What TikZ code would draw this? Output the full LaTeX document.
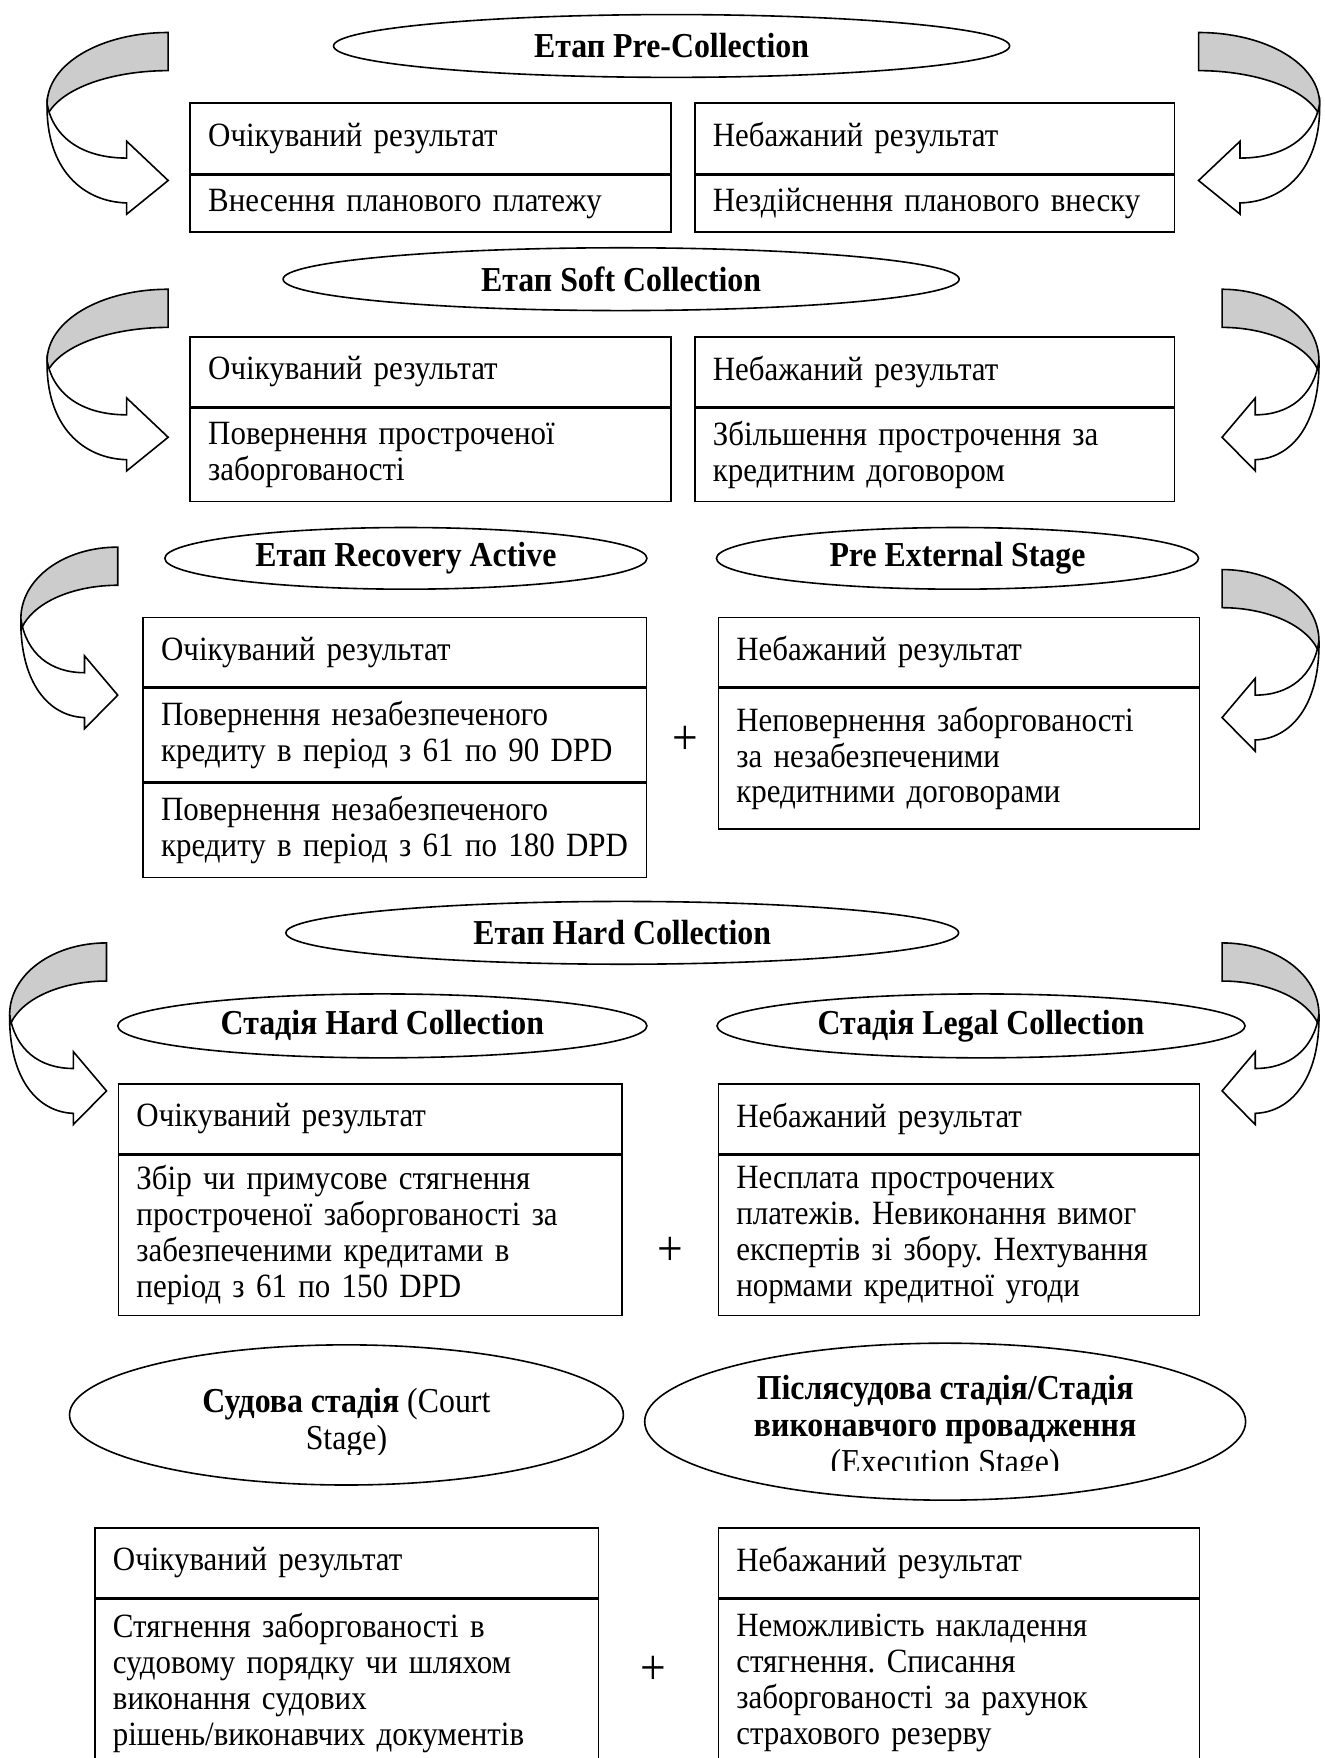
\documentclass[tikz,border=0pt]{standalone}
\usepackage{fontspec}
\setmainfont{Liberation Serif}[FakeStretch=0.91]
\usetikzlibrary{shapes.geometric}
\frenchspacing
\newlength\px
\setlength\px{0.5605pt}
\newcommand\cellfont{\fontsize{17}{17.9}\selectfont}
\newcommand\stagefont{\fontsize{17.5}{18.6}\selectfont}
\tikzset{
  every node/.style={
    inner sep=0pt
  },
  cell/.style={
    draw,
    rectangle,
    anchor=north west,
    align=left,
    inner xsep=16\px,
    font=\cellfont
  },
  stage/.style={
    draw,
    ellipse,
    align=center,
    font=\stagefont\bfseries
  },
  stagetext/.style={
    align=center,
    font=\stagefont
  },
  plus/.style={
    font=\fontsize{25}{25}\selectfont
  },
  pics/turnarrow/.style={code={
    \filldraw[fill=gray!40] (0,0) .. controls (-60,0) and (-108,28) .. (-108,64)
      -- (-107,72) .. controls (-92,47) and (-45,34) .. (0,34) -- cycle;
    \filldraw[fill=white] (-108,64) .. controls (-109,122) and (-76,151) .. (-37,152)
      -- (-37,162) -- (0,132) -- (-37,97) -- (-37,112)
      .. controls (-75,112) and (-102,95) .. (-108,64) -- cycle;
  }}
}
\begin{document}
\begin{tikzpicture}[x=0.5605pt, y=-0.5605pt, thick]
  \useasboundingbox (0,0) rectangle (1181,1568);
  \clip (0,0) rectangle (1181,1568);

  \node[stage, minimum width=603\px, minimum height=56\px] (preStage) at (599,41) {Етап Pre-Collection};
  \pic at (150,29) {turnarrow};
  \pic[xscale=-1] at (1069,29) {turnarrow};
  \node[cell, text width=397\px, minimum height=63\px] (preGood) at (169,91) {Очікуваний результат};
  \node[cell, text width=397\px, minimum height=51\px] (preGoodRes) at (preGood.south west) {Внесення планового платежу};
  \node[cell, text width=396\px, minimum height=63\px] (preBad) at (619,91) {Небажаний результат};
  \node[cell, text width=396\px, minimum height=51\px] (preBadRes) at (preBad.south west) {Нездійснення планового внеску};

  \node[stage, minimum width=603\px, minimum height=56\px] (softStage) at (554,249) {Етап Soft Collection};
  \pic at (150,258) {turnarrow};
  \pic[xscale=-0.8] at (1090,258) {turnarrow};
  \node[cell, text width=397\px, minimum height=62\px] (softGood) at (169,300) {Очікуваний результат};
  \node[cell, text width=397\px, minimum height=83\px] (softGoodRes) at (softGood.south west) {Повернення простроченої\\заборгованості};
  \node[cell, text width=396\px, minimum height=62\px] (softBad) at (619,300) {Небажаний результат};
  \node[cell, text width=396\px, minimum height=83\px] (softBadRes) at (softBad.south west) {Збільшення прострочення за\\кредитним договором};

  \node[stage, minimum width=430\px, minimum height=55\px] (recStage) at (362,498) {Етап Recovery Active};
  \node[stage, minimum width=430\px, minimum height=55\px] (extStage) at (854,498) {Pre External Stage};
  \pic[xscale=0.8] at (105,488) {turnarrow};
  \pic[xscale=-0.8] at (1090,508) {turnarrow};
  \node[cell, text width=417\px, minimum height=62\px] (recGood) at (127,550) {Очікуваний результат};
  \node[cell, text width=417\px, minimum height=83\px] (recRes1) at (recGood.south west) {Повернення незабезпеченого\\кредиту в період з 61 по 90 DPD};
  \node[cell, text width=417\px, minimum height=84\px] (recRes2) at (recRes1.south west) {Повернення незабезпеченого\\кредиту в період з 61 по 180 DPD};
  \node[cell, text width=397\px, minimum height=62\px] (extBad) at (640,550) {Небажаний результат};
  \node[cell, text width=397\px, minimum height=125\px] (extRes) at (extBad.south west) {Неповернення заборгованості\\за незабезпеченими\\кредитними договорами};
  \node[plus] (recPlus) at (611,660) {+};

  \node[stage, minimum width=600\px, minimum height=56\px] (hardStage) at (555,832) {Етап Hard Collection};
  \node[stage, minimum width=472\px, minimum height=57\px] (hardSub) at (341,915) {Стадія Hard Collection};
  \node[stage, minimum width=471\px, minimum height=57\px] (legalSub) at (875,915) {Стадія Legal Collection};
  \pic[xscale=0.8] at (95,841) {turnarrow};
  \pic[xscale=-0.8] at (1090,841) {turnarrow};
  \node[cell, text width=417\px, minimum height=62\px] (hardGood) at (105,966) {Очікуваний результат};
  \node[cell, text width=417\px, minimum height=143\px] (hardRes) at (hardGood.south west) {Збір чи примусове стягнення\\простроченої заборгованості за\\забезпеченими кредитами в\\період з 61 по 150 DPD};
  \node[cell, text width=397\px, minimum height=62\px] (legalBad) at (640,966) {Небажаний результат};
  \node[cell, text width=397\px, minimum height=143\px] (legalRes) at (legalBad.south west) {Несплата прострочених\\платежів. Невиконання вимог\\експертів зі збору. Нехтування\\нормами кредитної угоди};
  \node[plus] (hardPlus) at (598,1116) {+};

  \node[draw, ellipse, minimum width=494\px, minimum height=125\px] (courtStage) at (309,1262) {};
  \node[draw, ellipse, minimum width=536\px, minimum height=140\px] (execStage) at (843,1268) {};
  \begin{scope}
    \clip (60,1190) rectangle (570,1297);
    \node[stagetext] (courtText) at ([yshift=-7\px]courtStage.center) {\textbf{Судова стадія} (Court\\Stage)};
  \end{scope}
  \begin{scope}
    \clip (575,1190) rectangle (1115,1312);
    \node[stagetext] (execText) at ([yshift=-6\px]execStage.center) {\textbf{Післясудова стадія/Стадія}\\\textbf{виконавчого провадження}\\(Execution Stage)};
  \end{scope}
  \node[cell, text width=417\px, minimum height=62\px] (courtGood) at (84,1362) {Очікуваний результат};
  \node[cell, text width=417\px, minimum height=150\px] (courtRes) at (courtGood.south west) {Стягнення заборгованості в\\судовому порядку чи шляхом\\виконання судових\\рішень/виконавчих документів};
  \node[cell, text width=397\px, minimum height=62\px] (execBad) at (640,1362) {Небажаний результат};
  \node[cell, text width=397\px, minimum height=150\px] (execRes) at (execBad.south west) {Неможливість накладення\\стягнення. Списання\\заборгованості за рахунок\\страхового резерву};
  \node[plus] (courtPlus) at (583,1490) {+};
\end{tikzpicture}
\end{document}
